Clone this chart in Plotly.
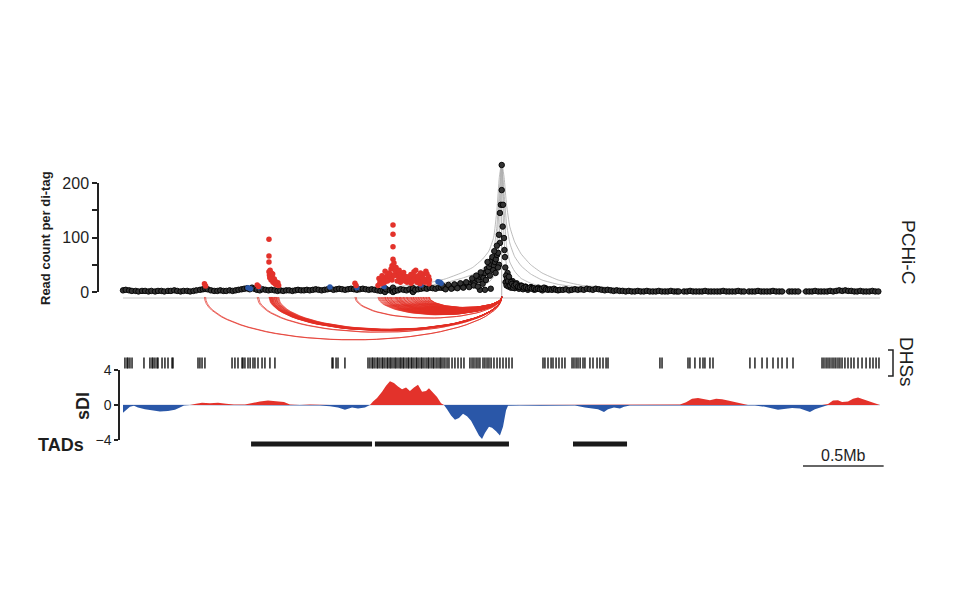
import math
import plotly.graph_objects as go

W, H = 960, 615
def X(px): return px / W
def Y(py): return 1 - py / H

# ---------------- data (positions in kb from the left edge of the region) ----------------
BAIT_KB = 2348
REGION_END_KB = 4693
KB_PER_PX = 6.2
LEFT_PX = 123

black_kb = [0, 17, 38, 55, 79, 96, 118, 137, 158, 176, 199, 217, 238, 256, 279, 297, 318, 336, 357, 375, 398, 416, 437, 455,
            478, 495, 510, 525, 545, 565,
            585, 603, 622, 640, 661, 680, 698, 716, 735,
            752, 770, 786, 800, 815, 830, 848, 866, 884, 902, 920, 940, 958,
            975, 993, 1012, 1030, 1050, 1068, 1085, 1104, 1122, 1140, 1158, 1177, 1195, 1213, 1232, 1250, 1268, 1286, 1305, 1323,
            1340, 1358, 1377, 1395, 1414, 1432, 1450, 1468, 1487, 1505, 1524,
            1542, 1560, 1578, 1596, 1614, 1624, 1624, 1632, 1655, 1668, 1674, 1674, 1686, 1704, 1722, 1740, 1758, 1776, 1794, 1798,
            1798, 1812, 1830, 1848, 1866, 1884, 1902, 1920, 1938, 1956,
            1972, 1990, 2009, 2027, 2046, 2064, 2083, 2101, 2120, 2138, 2157, 2170, 2180, 2195, 2205, 2213, 2213, 2225, 2235, 2244,
            2244, 2255, 2262, 2270, 2278, 2280, 2285, 2290, 2300, 2306, 2312, 2319, 2325, 2331, 2331, 2337, 2337, 2343, 2348, 2348,
            2354, 2356, 2362, 2365, 2368,
            1980, 2000, 2018, 2036, 2055, 2073, 2092, 2110, 2128, 2146, 2165, 2175, 2190, 2200, 2218, 2230, 2250, 2260, 2275, 2295,
            2302, 2310, 2318, 2325,
            2370, 2372, 2378, 2384, 2390, 2396, 2405, 2415, 2428, 2440, 2455, 2468, 2480, 2495, 2510, 2530, 2550, 2575, 2600, 2620,
            2375, 2381, 2387, 2393, 2400, 2406, 2412, 2418, 2424, 2436, 2449, 2461, 2473, 2486, 2498, 2511, 2523, 2535, 2548, 2560,
            2572, 2585, 2597, 2610, 2622, 2635, 2647, 2660, 2672, 2684, 2697, 2709,
            2728, 2746, 2765, 2783, 2802, 2820, 2839, 2857, 2876, 2894, 2913, 2931, 2950, 2968, 2987, 3005, 3024, 3042, 3061, 3079,
            3098, 3117, 3136, 3154, 3173, 3192, 3210, 3229, 3248, 3266, 3285, 3304, 3322, 3341, 3360, 3378, 3397, 3416, 3434, 3446,
            3478, 3497, 3516, 3534, 3553, 3572, 3590, 3609, 3628, 3646, 3665, 3684, 3702, 3721, 3740, 3758, 3777, 3796, 3814, 3833, 3850,
            3881, 3900, 3918, 3937, 3956, 3974, 3993, 4012, 4030, 4049, 4068, 4086,
            4130, 4148, 4167, 4186,
            4235, 4254, 4272, 4291, 4310, 4328, 4347, 4366, 4384, 4403, 4422, 4440, 4459, 4478, 4496, 4515, 4534, 4552, 4571, 4590,
            4608, 4627, 4646, 4664, 4683]
black_val = [3, 4, 3, 2, 2, 1, 2, 2, 1, 2, 1, 2, 2, 1, 2, 2, 3, 2, 1, 2, 2, 1, 2, 3,
             4, 5, 6, 5, 3, 2,
             2, 3, 2, 2, 3, 2, 3, 4, 5,
             6, 7, 5, 8, 6, 4, 3, 5, 4, 3, 4, 3, 2,
             3, 2, 3, 3, 2, 3, 4, 3, 3, 4, 3, 4, 5, 4, 3, 4, 5, 6, 4, 5,
             6, 5, 4, 5, 6, 5, 4, 5, 6, 5, 4,
             5, 4, 3, 2, 3, 0, 7, 5, 3, 4, 0, 8, 2, 3, 5, 4, 3, 5, 2, 0,
             7, 4, 5, 6, 7, 6, 8, 7, 6, 8,
             8, 7, 9, 10, 8, 11, 12, 10, 14, 13, 16, 20, 18, 24, 22, 28, 4, 30, 26, 35,
             4, 42, 38, 46, 52, 6, 58, 64, 48, 55, 60, 68, 72, 105, 50, 145, 90, 160, 233, 187,
             120, 160, 99, 77, 64,
             12, 5, 13, 6, 14, 7, 16, 8, 18, 9, 25, 12, 30, 10, 36, 15, 22, 55, 30, 40,
             75, 35, 85, 45,
             45, 18, 12, 35, 10, 22, 8, 20, 7, 16, 6, 12, 5, 10, 4, 9, 4, 8, 3, 7,
             30, 25, 20, 28, 12, 18, 15, 8, 12, 14, 10, 9, 11, 8, 9, 7, 8, 6, 7, 5,
             6, 5, 6, 8, 5, 4, 5, 4, 6, 4, 3, 4,
             4, 5, 3, 4, 5, 4, 5, 4, 6, 5, 4, 6, 5, 4, 3, 4, 3, 2, 3, 2,
             2, 1, 2, 1, 1, 2, 1, 1, 2, 1, 1, 1, 2, 1, 1, 1, 2, 1, 1, 1,
             1, 1, 2, 1, 1, 1, 1, 2, 1, 1, 1, 1, 1, 2, 1, 1, 1, 1, 2, 1, 1,
             1, 1, 1, 2, 1, 1, 1, 1, 2, 1, 1, 1,
             1, 1, 1, 1,
             1, 1, 1, 2, 1, 1, 1, 1, 2, 1, 2, 3, 2, 3, 2, 2, 1, 1, 2, 1,
             1, 1, 2, 1, 1]

red_kb = [505, 512, 832, 840,
          905, 905, 905, 905, 908, 910, 912, 915, 918, 920, 925, 930, 935, 940, 945, 950, 955,
          922, 928, 938, 948, 960, 965,
          1438, 1445,
          1581, 1593, 1600, 1612, 1618, 1624, 1630, 1637, 1643, 1650, 1655, 1662, 1668, 1674, 1674, 1674, 1674, 1680, 1686, 1690,
          1697, 1705, 1711, 1717, 1724, 1730, 1736, 1742, 1748, 1755, 1761, 1767, 1773, 1779, 1786, 1792, 1798, 1804, 1810, 1817,
          1823, 1829, 1835, 1841, 1848, 1854, 1860, 1866, 1872, 1879, 1885, 1891, 1897,
          1587, 1606, 1625, 1640, 1660, 1668, 1680, 1693, 1700, 1712, 1720, 1740, 1760, 1785, 1800, 1815, 1830, 1845, 1862, 1878,
          1895, 1900]
red_val = [15, 11, 13, 10,
           97, 66, 55, 37, 31, 26, 40, 30, 22, 35, 28, 18, 20, 16, 14, 15, 13,
           25, 33, 24, 19, 17, 12,
           16, 12,
           12, 18, 15, 22, 17, 26, 20, 30, 25, 35, 28, 42, 48, 123, 106, 83, 60, 53, 40, 33,
           38, 30, 26, 34, 28, 22, 25, 30, 20, 24, 18, 22, 27, 20, 16, 24, 30, 37, 28, 22,
           18, 25, 19, 15, 21, 27, 32, 24, 18, 22, 33, 19, 15,
           25, 30, 38, 20, 32, 22, 30, 45, 20, 40, 18, 36, 28, 32, 20, 40, 30, 35, 20, 38,
           28, 22]

blue_kb = [775, 790, 843, 1283, 1450, 1618, 1841, 1848, 1953, 1965, 1972]
blue_val = [8, 6, 9, 9, 8, 10, 16, 13, 19, 18, 16]

# expected-count envelopes around the bait (offset from bait, kb)
gray_offsets_kb = [-2348, -1200, -800, -500, -350, -250, -180, -120, -80, -50, -30, -15, 0,
                   15, 30, 50, 80, 120, 180, 250, 350, 500, 800, 1200, 2345]
gray_curve_a = [3, 4, 7, 14, 24, 35, 45, 60, 75, 100, 150, 210, 238, 210, 160, 120, 92, 70, 50, 35, 22, 12, 6, 3, 2]
gray_curve_b = [2, 3, 5, 10, 17, 25, 32, 42, 55, 75, 120, 185, 238, 180, 125, 90, 65, 48, 33, 22, 14, 8, 4, 2, 1]
gray_curve_c = [1, 2, 3, 6, 10, 15, 20, 28, 38, 55, 90, 160, 238, 150, 85, 55, 38, 25, 16, 10, 6, 4, 2, 1, 1]
gray_curve_d = [0, 1, 1, 2, 4, 6, 9, 13, 18, 28, 50, 100, 238, 95, 48, 28, 18, 12, 8, 5, 3, 2, 1, 0, 0]

dhs_kb = [12, 25, 31, 43, 56, 130, 167, 180, 186, 198, 211, 217, 242, 260, 279, 304, 310, 465, 477, 490, 508,
          676, 694, 713, 738, 744, 756, 775, 788, 806, 818, 837, 862, 880, 911, 942, 1296, 1302, 1321, 1333, 1376,
          1519, 1531, 1544, 1550, 1562, 1575, 1581, 1593, 1606, 1612, 1624, 1637, 1643, 1655, 1662, 1674, 1686, 1693,
          1705, 1717, 1724, 1736, 1742, 1755, 1767, 1773, 1786, 1792, 1804, 1817, 1823, 1835, 1848, 1854, 1866, 1879,
          1891, 1897, 1910, 1922, 1928, 1941, 1953, 1965, 1972, 1984, 1996, 2009, 2021, 2040, 2058, 2077, 2096, 2114,
          2151, 2164, 2176, 2189, 2201, 2213, 2232, 2244, 2257, 2269, 2282, 2300, 2319, 2337, 2356, 2375, 2393, 2412,
          2604, 2616, 2635, 2654, 2666, 2685, 2703, 2722, 2740, 2784, 2796, 2809, 2821, 2834, 2852, 2864, 2895, 2914,
          2939, 2957, 2976, 2995, 3007,
          3329, 3342, 3503, 3515, 3546, 3577, 3596, 3608, 3639, 3658, 3887, 3918, 3962, 3993, 4030, 4061, 4086, 4117,
          4154, 4334, 4346, 4359, 4371, 4383, 4396, 4408, 4420, 4433, 4445, 4458, 4476, 4495, 4514, 4532, 4557, 4582,
          4607, 4631, 4650, 4669, 4687]

sdi_kb = [0, 19, 43, 68, 93, 136, 180, 229, 279, 322,
          353, 378, 415, 453, 490, 539, 589, 639, 688, 756,
          800, 849, 899, 949, 998, 1035, 1097, 1159, 1221, 1283,
          1333, 1376, 1420, 1457, 1500, 1531, 1550, 1575, 1606, 1631,
          1655, 1680, 1705, 1730, 1755, 1779, 1804, 1829, 1854, 1879,
          1897, 1922, 1947, 1972, 1990, 2009, 2034, 2058, 2083, 2108,
          2133, 2158, 2182, 2207, 2226, 2244, 2269, 2288, 2313, 2337,
          2356, 2375, 2387, 2461, 2585, 2709, 2802, 2864, 2908, 2945,
          2982, 3007, 3044, 3081, 3106, 3143, 3267, 3391, 3453, 3491,
          3528, 3565, 3602, 3639, 3677, 3714, 3751, 3794, 3838, 3875,
          3918, 3980, 4024, 4061, 4098, 4148, 4197, 4235, 4259, 4290,
          4334, 4371, 4402, 4433, 4458, 4495, 4526, 4557, 4594, 4631,
          4669, 4693]
sdi_val = [-0.9, -0.6, -0.2, -0.1, -0.3, -0.5, -0.65, -0.75, -0.7, -0.55,
           -0.3, -0.05, 0.0, 0.15, 0.25, 0.2, 0.25, 0.15, 0.05, 0.05,
           0.25, 0.4, 0.5, 0.45, 0.35, 0.05, 0.0, 0.05, -0.05, -0.15,
           -0.3, -0.55, -0.3, -0.4, -0.3, 0.0, 0.4, 0.8, 1.5, 2.2,
           2.7, 2.5, 2.1, 1.8, 2.0, 1.6, 2.0, 2.3, 1.5, 1.6,
           1.9, 1.4, 0.9, 0.2, 0.0, -0.5, -1.2, -1.7, -1.5, -1.0,
           -1.3, -1.8, -2.6, -3.5, -3.9, -3.2, -2.5, -2.6, -3.0, -3.5,
           -2.5, -0.6, -0.1, -0.05, -0.1, -0.05, -0.05, -0.3, -0.45, -0.5,
           -0.8, -0.5, -0.3, -0.4, -0.2, -0.05, -0.05, -0.05, 0.05, 0.3,
           0.7, 0.8, 0.65, 0.55, 0.7, 0.65, 0.5, 0.35, 0.15, 0.0,
           -0.05, -0.2, -0.4, -0.55, -0.45, -0.35, -0.4, -0.6, -0.8, -0.5,
           -0.2, 0.1, 0.5, 0.55, 0.35, 0.4, 0.7, 0.85, 0.6, 0.4,
           0.15, 0.0]

tad_start_kb = [794, 1562, 2790]
tad_end_kb = [1544, 2393, 3125]

pchic_ticks = [0, 50, 100, 150, 200]
pchic_ticktext = ["0", "", "100", "", "200"]
sdi_ticks = [-4, 0, 4]
SCALE_BAR_KB = 500
SCALE_BAR_START_KB = 4216

RED = "#e3322b"
BLUE = "#2a57a8"
FONT = "Arial, Liberation Sans, Helvetica, sans-serif"
TXT = "#1e1e1e"

fig = go.Figure()

# gray envelopes
for curve in (gray_curve_a, gray_curve_b, gray_curve_c, gray_curve_d):
    fig.add_trace(go.Scatter(x=[BAIT_KB + o for o in gray_offsets_kb], y=curve, mode="lines",
                             line=dict(color="#ababab", width=0.8, shape="spline", smoothing=0.4),
                             yaxis="y", hoverinfo="skip"))

# bait vertical line
fig.add_trace(go.Scatter(x=[BAIT_KB, BAIT_KB], y=[-7, 238], mode="lines",
                         line=dict(color="#b0b0b0", width=1), yaxis="y", hoverinfo="skip"))

fig.add_trace(go.Scatter(x=black_kb, y=black_val, mode="markers", yaxis="y", cliponaxis=False,
                         marker=dict(size=5.5, color="#333333", line=dict(color="#000", width=0.9))))
fig.add_trace(go.Scatter(x=blue_kb, y=blue_val, mode="markers", yaxis="y", cliponaxis=False,
                         marker=dict(size=5.5, color=BLUE, line=dict(color=BLUE, width=0))))
fig.add_trace(go.Scatter(x=red_kb, y=red_val, mode="markers", yaxis="y", cliponaxis=False,
                         marker=dict(size=5.5, color=RED, line=dict(color=RED, width=0))))

# arcs from each significant interaction to the bait
ax, ay = [], []
for p in sorted(set(red_kb)):
    span = BAIT_KB - p
    c = (p + BAIT_KB) / 2
    for i in range(41):
        t = math.pi * i / 40
        ax.append(c - span / 2 * math.cos(t))
        ay.append(-span / 2 * math.sin(t))
    ax.append(None)
    ay.append(None)
fig.add_trace(go.Scatter(x=ax, y=ay, mode="lines", yaxis="y2",
                         line=dict(color="rgba(226,45,36,0.7)", width=1), hoverinfo="skip"))

# DHS ticks
fig.add_trace(go.Scatter(x=dhs_kb, y=[0.5] * len(dhs_kb), mode="markers", yaxis="y3",
                         marker=dict(symbol="line-ns", size=8, line=dict(color="#000", width=1.3))))

# sDI
fig.add_trace(go.Scatter(x=sdi_kb, y=[max(v, 0) for v in sdi_val], mode="lines", yaxis="y4",
                         fill="tozeroy", fillcolor=RED, line=dict(color=RED, width=0)))
fig.add_trace(go.Scatter(x=sdi_kb, y=[min(v, 0) for v in sdi_val], mode="lines", yaxis="y4",
                         fill="tozeroy", fillcolor=BLUE, line=dict(color=BLUE, width=0)))

# TADs
tx, ty = [], []
for s, e in zip(tad_start_kb, tad_end_kb):
    tx += [s, e, None]
    ty += [0.5, 0.5, None]
fig.add_trace(go.Scatter(x=tx, y=ty, mode="lines", yaxis="y5", line=dict(color="#1a1a1a", width=5)))

# axis carrier for PCHi-C scale
fig.add_trace(go.Scatter(x=[None], y=[None], mode="markers", yaxis="y6", hoverinfo="skip"))

x_range = [-LEFT_PX * KB_PER_PX, (W - LEFT_PX) * KB_PER_PX]

def hidden(dom, rng):
    return dict(domain=dom, range=rng, visible=False, fixedrange=True, anchor="x")

fig.update_layout(
    width=W, height=H, margin=dict(l=0, r=0, t=0, b=0, autoexpand=False),
    paper_bgcolor="white", plot_bgcolor="rgba(0,0,0,0)", showlegend=False,
    font=dict(family=FONT, color=TXT),
    xaxis=dict(domain=[0, 1], range=x_range, visible=False, fixedrange=True),
    yaxis=hidden([Y(296), Y(150)], [(292 - 296) / 0.545, (292 - 150) / 0.545]),
    yaxis2=hidden([Y(348), Y(296)], [-1095, 21]),
    yaxis3=hidden([Y(369), Y(357)], [0, 1]),
    yaxis4=dict(domain=[Y(440), Y(370)], range=[-4, 4], anchor="free", position=X(119),
                showline=True, linecolor="#222", linewidth=1.5, ticks="outside", ticklen=4,
                tickwidth=1.5, tickcolor="#222", tickvals=sdi_ticks, tickfont=dict(size=14, color=TXT),
                showgrid=False, zeroline=False, fixedrange=True),
    yaxis5=hidden([Y(449), Y(439)], [0, 1]),
    yaxis6=dict(domain=[Y(292), Y(183)], range=[0, 200], anchor="free", position=X(98),
                showline=True, linecolor="#222", linewidth=1.5, ticks="outside", ticklen=5,
                tickwidth=1.5, tickcolor="#222", tickvals=pchic_ticks, ticktext=pchic_ticktext,
                tickfont=dict(size=16, color=TXT), showgrid=False, zeroline=False, fixedrange=True),
)

shapes = [
    # light baseline under the PCHi-C points
    dict(type="line", xref="x", yref="paper", x0=0, x1=REGION_END_KB, y0=Y(298), y1=Y(298),
         line=dict(color="#e2e2e2", width=2), layer="below"),
    # sDI zero line (faint)
    dict(type="line", xref="x", yref="paper", x0=0, x1=REGION_END_KB, y0=Y(405), y1=Y(405),
         line=dict(color="#c9cfe0", width=1), layer="below"),
    # scale bar
    dict(type="line", xref="x", yref="paper", x0=SCALE_BAR_START_KB, x1=SCALE_BAR_START_KB + SCALE_BAR_KB,
         y0=Y(466), y1=Y(466), line=dict(color="#333", width=1.5)),
    # DHS bracket
    dict(type="path", xref="paper", yref="paper",
         path=f"M {X(888)},{Y(350)} L {X(893)},{Y(350)} L {X(893)},{Y(376)} L {X(888)},{Y(376)}",
         line=dict(color="#222", width=1.5)),
]
fig.update_layout(shapes=shapes)

ann = [
    dict(text="<b>Read count per di-tag</b>", x=X(46), y=Y(238), textangle=-90, font=dict(size=13)),
    dict(text="<b>sDI</b>", x=X(83), y=Y(406), textangle=-90, font=dict(size=18)),
    dict(text="<b>TADs</b>", x=X(61), y=Y(445), font=dict(size=18)),
    dict(text="PCHi-C", x=X(908), y=Y(252), textangle=90, font=dict(size=19)),
    dict(text="DHSs", x=X(907), y=Y(362), textangle=90, font=dict(size=19)),
]
for a in ann:
    a.update(xref="paper", yref="paper", showarrow=False, xanchor="center", yanchor="middle")
ann.append(dict(text="0.5Mb", xref="x", yref="paper", x=SCALE_BAR_START_KB + SCALE_BAR_KB / 2, y=Y(455),
                showarrow=False, xanchor="center", yanchor="middle", font=dict(size=16)))
fig.update_layout(annotations=ann)

fig.write_html("out.html", config={"displayModeBar": False},
               post_script="document.body.style.margin='0px';")
